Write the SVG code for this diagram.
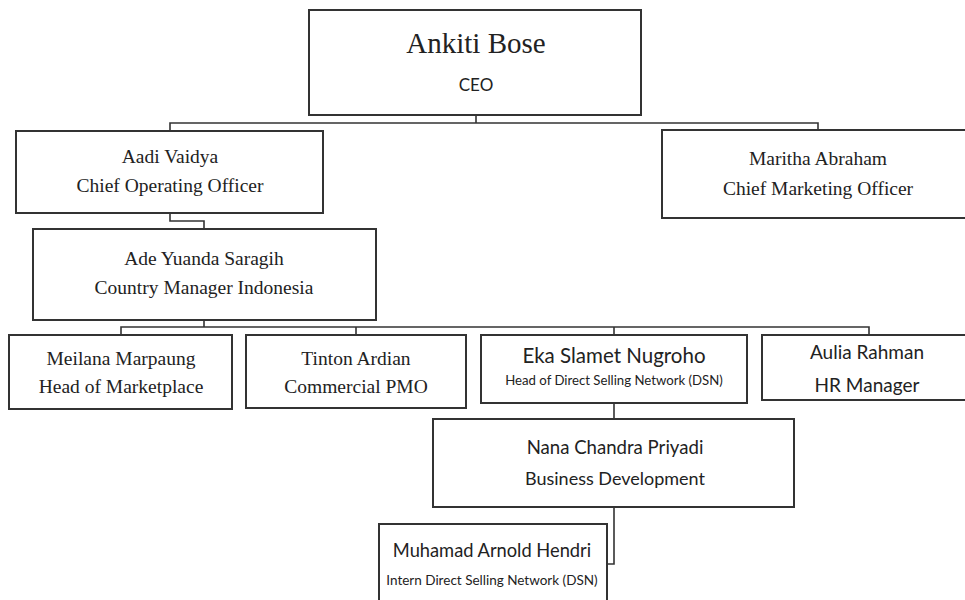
<svg xmlns="http://www.w3.org/2000/svg" width="965" height="600" viewBox="0 0 965 600">
<style>
.box{fill:#fff;stroke:#333;stroke-width:2}
.ln{fill:none;stroke:#333;stroke-width:1.6}
.s{font-family:"Liberation Serif",serif;fill:#222;text-anchor:middle}
.c{font-family:Lato,"Liberation Sans",sans-serif;fill:#222;text-anchor:middle}
</style>
<rect width="965" height="600" fill="#fff"/>
<g id="connectors">
<path class="ln" d="M476 115V123M170 131V123H818V130"/>
<path class="ln" d="M170 213V221H204V229"/>
<path class="ln" d="M204 320V327M121 335V327H869V335M356 327V335M614 327V335"/>
<path class="ln" d="M614 403V419"/>
<path class="ln" d="M614 507V564H607"/>
</g>
<g id="ceo">
<rect class="box" x="309" y="10" width="332" height="105"/>
<text class="s" x="476" y="53" font-size="29">Ankiti Bose</text>
<text class="c" x="476" y="91" font-size="17">CEO</text>
</g>
<g id="coo">
<rect class="box" x="16" y="131" width="307" height="82"/>
<text class="s" x="170" y="163" font-size="19.5">Aadi Vaidya</text>
<text class="s" x="170" y="192" font-size="19.5">Chief Operating Officer</text>
</g>
<g id="cmo">
<rect class="box" x="662" y="130" width="310" height="88"/>
<text class="s" x="818" y="165" font-size="19.5">Maritha Abraham</text>
<text class="s" x="818" y="195" font-size="19.5">Chief Marketing Officer</text>
</g>
<g id="country-manager">
<rect class="box" x="33" y="229" width="343" height="91"/>
<text class="s" x="204" y="265" font-size="19.5">Ade Yuanda Saragih</text>
<text class="s" x="204" y="294" font-size="19.5">Country Manager Indonesia</text>
</g>
<g id="marketplace">
<rect class="box" x="9" y="335" width="223" height="74"/>
<text class="s" x="121" y="365" font-size="19.5">Meilana Marpaung</text>
<text class="s" x="121" y="393" font-size="19.5">Head of Marketplace</text>
</g>
<g id="pmo">
<rect class="box" x="246" y="335" width="220" height="73"/>
<text class="s" x="356" y="365" font-size="19.5">Tinton Ardian</text>
<text class="s" x="356" y="393" font-size="19.5">Commercial PMO</text>
</g>
<g id="dsn-head">
<rect class="box" x="481" y="335" width="266" height="68"/>
<text class="c" x="614" y="363" font-size="20.5">Eka Slamet Nugroho</text>
<text class="c" x="614" y="385" font-size="13.2">Head of Direct Selling Network (DSN)</text>
</g>
<g id="hr">
<rect class="box" x="762" y="335" width="210" height="65"/>
<text class="c" x="867" y="359" font-size="19">Aulia Rahman</text>
<text class="c" x="867" y="392" font-size="19">HR Manager</text>
</g>
<g id="bizdev">
<rect class="box" x="433" y="419" width="361" height="88"/>
<text class="c" x="615" y="454" font-size="18.6">Nana Chandra Priyadi</text>
<text class="c" x="615" y="485" font-size="18">Business Development</text>
</g>
<g id="intern">
<rect class="box" x="379" y="524" width="228" height="90"/>
<text class="c" x="492" y="557" font-size="18.3">Muhamad Arnold Hendri</text>
<text class="c" x="492" y="585" font-size="13.5">Intern Direct Selling Network (DSN)</text>
</g>
</svg>
